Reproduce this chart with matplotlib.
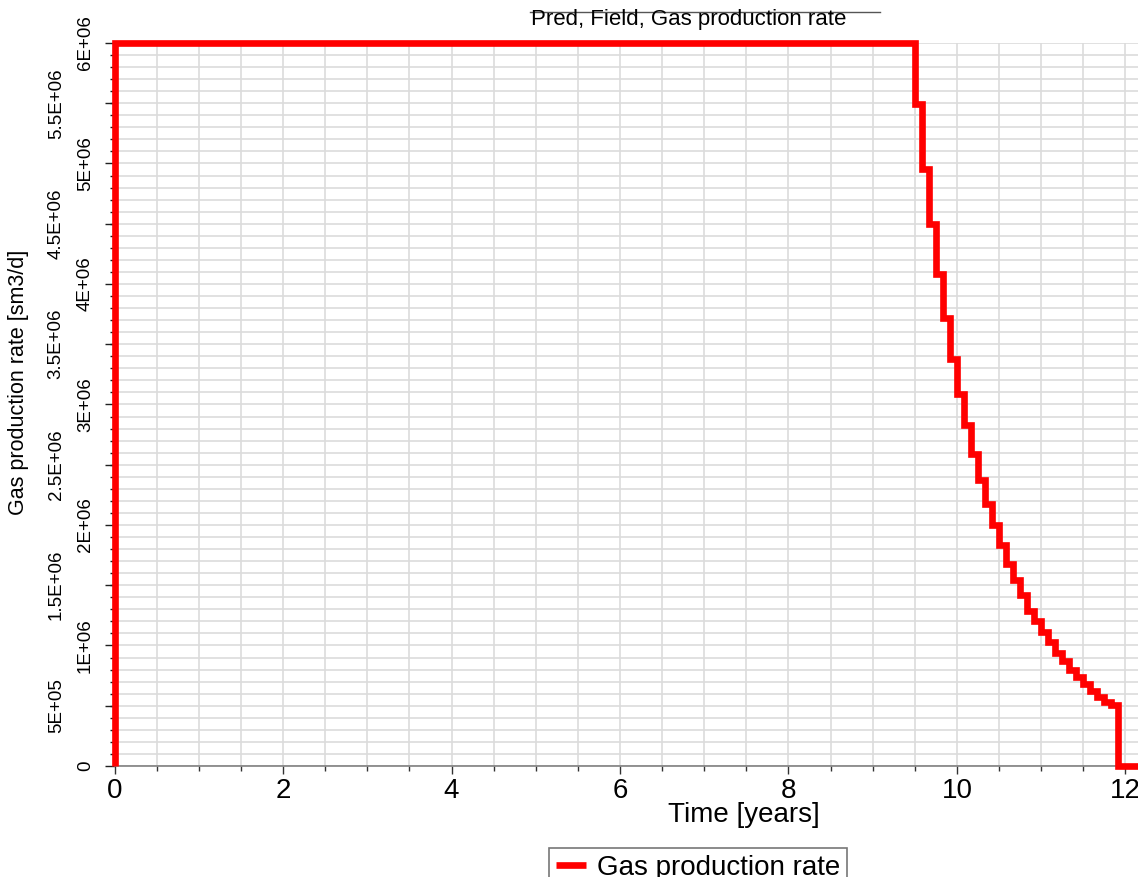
import matplotlib
matplotlib.use("Agg")
import matplotlib.pyplot as plt
from matplotlib.lines import Line2D
from matplotlib.ticker import MultipleLocator, FixedLocator

plt.rcParams["font.family"] = ["Liberation Sans", "DejaVu Sans"]

# ข้อมูล: เวลา (ปี) และอัตราการผลิตก๊าซ (sm3/d) แบบขั้นบันได
step_times = [0.0, 0.0, 9.5, 9.583, 9.667, 9.75, 9.833, 9.917, 10.0, 10.083,
              10.167, 10.25, 10.333, 10.417, 10.5, 10.583, 10.667, 10.75,
              10.833, 10.917, 11.0, 11.083, 11.167, 11.25, 11.333, 11.417,
              11.5, 11.583, 11.667, 11.75, 11.833, 11.917, 12.25]
gas_rates = [0, 6.0e6, 5.49e6, 4.95e6, 4.50e6, 4.08e6, 3.72e6, 3.38e6, 3.09e6,
             2.83e6, 2.59e6, 2.37e6, 2.17e6, 2.00e6, 1.83e6, 1.68e6, 1.54e6,
             1.42e6, 1.29e6, 1.20e6, 1.11e6, 1.03e6, 0.94e6, 0.87e6, 0.80e6,
             0.74e6, 0.68e6, 0.625e6, 0.57e6, 0.535e6, 0.505e6, 0, 0]

# ป้ายแกน y แบ่งเป็นสองแถว (จำนวนเต็มล้าน / ครึ่งล้าน)
y_ticks_inner = [0, 1e6, 2e6, 3e6, 4e6, 5e6, 6e6]
y_labels_inner = ["0", "1E+06", "2E+06", "3E+06", "4E+06", "5E+06", "6E+06"]
y_ticks_outer = [5e5, 1.5e6, 2.5e6, 3.5e6, 4.5e6, 5.5e6]
y_labels_outer = ["5E+05", "1.5E+06", "2.5E+06", "3.5E+06", "4.5E+06", "5.5E+06"]
x_ticks = [0, 2, 4, 6, 8, 10, 12]

fig = plt.figure(figsize=(11.38, 8.77), dpi=100)
ax = fig.add_axes([0.1008, 0.1266, 0.8992, 0.8244])

ax.plot(step_times, gas_rates, drawstyle="steps-post", color="#ff0000", lw=4.8,
        solid_joinstyle="miter", solid_capstyle="butt", clip_on=False, zorder=5,
        label="Gas production rate")

ax.set_xlim(0, 12.15)
ax.set_ylim(0, 6e6)

# แกน x
ax.xaxis.set_major_locator(FixedLocator(x_ticks))
ax.xaxis.set_minor_locator(MultipleLocator(0.5))
ax.set_xticklabels([str(t) for t in x_ticks])
ax.tick_params(axis="x", which="major", length=6, width=1, labelsize=20, pad=3, color="#333333")
ax.tick_params(axis="x", which="minor", length=3.5, width=1, color="#333333")

# แกน y (แถวใน)
ax.yaxis.set_major_locator(FixedLocator(y_ticks_inner))
ax.yaxis.set_minor_locator(MultipleLocator(1e5))
ax.set_yticklabels(y_labels_inner, rotation=90, va="center")
ax.tick_params(axis="y", which="major", length=7, width=1, labelsize=13.5, pad=8, color="#222222")
ax.tick_params(axis="y", which="minor", length=3.5, width=1, color="#222222")

# แกน y (แถวนอก)
sec = ax.secondary_yaxis("left")
sec.spines["left"].set_visible(False)
sec.set_yticks(y_ticks_outer)
sec.set_yticklabels(y_labels_outer, rotation=90, va="center")
sec.tick_params(axis="y", which="major", length=7, width=1, labelsize=13.5, pad=29, color="#222222")
sec.yaxis.set_minor_locator(FixedLocator([]))
for lbl in sec.get_yticklabels():
    pass

ax.grid(True, which="both", color="#dcdcdc", lw=1.2)
ax.set_axisbelow(True)

for side in ["top", "right"]:
    ax.spines[side].set_visible(False)
ax.spines["left"].set_color("#222222")
ax.spines["bottom"].set_color("#808080")
ax.spines["bottom"].set_linewidth(1.2)

ax.set_xlabel("Time [years]", fontsize=20)
ax.xaxis.set_label_coords(0.615, -0.05)
ax.xaxis.label.set_va("top")
ax.set_ylabel("Gas production rate [sm3/d]", fontsize=15.5)
ax.yaxis.set_label_coords(-0.084, 0.531)

# หัวเรื่องพร้อมเส้นขอบด้านบน
fig.add_artist(Line2D([530 / 1138, 880 / 1138], [1 - 12 / 877, 1 - 12 / 877],
                      color="#555555", lw=1, transform=fig.transFigure))
fig.text(531 / 1138, 1 - 20 / 877, "Pred, Field, Gas production rate",
         fontsize=16, ha="left", va="center")

leg = fig.legend(loc="upper center", bbox_to_anchor=(698 / 1138, 1 - 848 / 877),
                 fontsize=20, frameon=True, fancybox=False, handlelength=1.1,
                 borderpad=0.25, handletextpad=0.4, borderaxespad=0)
leg.get_frame().set_edgecolor("#555555")
leg.get_frame().set_linewidth(1.2)

fig.savefig("out.png", dpi=100)
